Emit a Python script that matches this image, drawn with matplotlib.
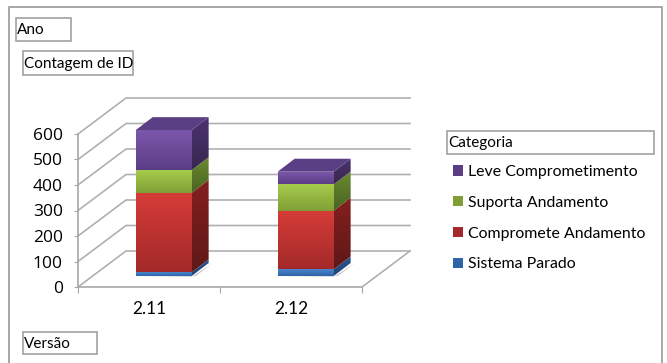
import numpy as np
import matplotlib
matplotlib.use("Agg")
import matplotlib.pyplot as plt
from matplotlib.patches import Polygon, Patch, Rectangle
from matplotlib.colors import LinearSegmentedColormap

categories = ["2.11", "2.12"]
series = ["Sistema Parado", "Compromete Andamento", "Suporta Andamento", "Leve Comprometimento"]
sistema_parado = [14, 26]
compromete = [312, 230]
suporta = [89, 103]
leve = [157, 50]
values = [sistema_parado, compromete, suporta, leve]
yticks = [0, 100, 200, 300, 400, 500, 600]

front_top = ["#4a86cc", "#d63c38", "#a6cc4c", "#7d58ac"]
front_bot = ["#2f64a8", "#a32a29", "#7f9f36", "#5b3d86"]
side_top = ["#2a5590", "#84201f", "#6a8a30", "#4c3470"]
side_bot = ["#1f4272", "#5e1817", "#4a6322", "#38264f"]
top_col = "#5b3f85"

W, H = 667, 363
plt.rcParams["font.family"] = ["Lato", "DejaVu Sans"]
fig = plt.figure(figsize=(W / 100, H / 100), dpi=100, facecolor="white")

# outer frame
over = fig.add_axes([0, 0, 1, 1], zorder=5)
over.set_xlim(0, W); over.set_ylim(H, 0); over.axis("off")
over.plot([9, 9, 662, 662], [H, 7, 7, H], color="#a0a0a0", lw=1.3)

def box(x0, y0, x1, y1, text):
    over.add_patch(Rectangle((x0, y0), x1 - x0, y1 - y0, fc="white", ec="#9a9a9a", lw=1.1))
    over.text(x0 + 1, (y0 + y1) / 2 + 1, text, ha="left", va="center", fontsize=11, color="black")

box(16, 18, 71, 41, "Ano")
box(23, 51, 133, 75, "Contagem de ID")
box(447, 131, 654, 154, "Categoria")
box(23, 332, 97, 354, "Versão")

# plotting axes: x 78..362 px, 0..600 mapped to 287..134 px
ax = fig.add_axes([78 / W, 1 - 287 / H, (362 - 78) / W, 153 / H], zorder=2)
ax.set_xlim(0, len(categories)); ax.set_ylim(0, 600)
ax.patch.set_visible(False)
for s in ["top", "right"]:
    ax.spines[s].set_visible(False)
for s in ["left", "bottom"]:
    ax.spines[s].set_color("#a8a8a8"); ax.spines[s].set_linewidth(1.2)
ax.set_xticks(np.arange(len(categories) + 1))
ax.set_xticklabels([""] * (len(categories) + 1))
ax.set_yticks(yticks)
ax.tick_params(axis="y", length=3, color="#a8a8a8", labelsize=12.5, pad=8, direction="out")
for lab in ax.get_yticklabels():
    lab.set_fontfamily("Open Sans")
ax.tick_params(axis="x", length=4, color="#a8a8a8", direction="out")

ux = 142.0  # px per category
uy = 153 / 600  # px per value
wall_dx, wall_dy = 48 / ux, 36 / uy
bar_w = 56 / ux
depth_dx, depth_dy = 17 / ux, 13 / uy
base_frac = 0.305
grid = "#b0b0b0"

n = len(categories)
for t in yticks:
    ax.plot([0, wall_dx, n + wall_dx], [t, t + wall_dy, t + wall_dy], color=grid, lw=1.2, clip_on=False, zorder=1)
ax.plot([n, n + wall_dx], [0, wall_dy], color=grid, lw=1.2, clip_on=False, zorder=1)

def grad(poly, c0, c1, zorder):
    cm = LinearSegmentedColormap.from_list("g", [c1, c0])
    xs, ys = zip(*poly)
    arr = np.linspace(0, 1, 64).reshape(-1, 1)
    im = ax.imshow(arr, cmap=cm, origin="lower", aspect="auto",
                   extent=(min(xs), max(xs), min(ys), max(ys)), zorder=zorder)
    p = Polygon(poly, transform=ax.transData, fc="none", ec="none", clip_on=False)
    ax.add_patch(p)
    im.set_clip_box(fig.bbox)
    im.set_clip_path(p)

for i in range(n):
    x0 = i + 0.5 + base_frac * wall_dx - bar_w / 2
    x1 = x0 + bar_w
    yb = base_frac * wall_dy
    ax.add_patch(Polygon([(x0 - 0.02, yb - 3), (x1, yb - 3),
                          (x1 + depth_dx + 0.03, yb + depth_dy), (x1 + 0.03, yb)],
                         fc="#c8c8c8", ec="none", clip_on=False, zorder=2))
    b = yb
    for j, vals in enumerate(values):
        v = vals[i]
        front = [(x0, b), (x1, b), (x1, b + v), (x0, b + v)]
        side = [(x1, b), (x1 + depth_dx, b + depth_dy), (x1 + depth_dx, b + v + depth_dy), (x1, b + v)]
        grad(side, side_top[j], side_bot[j], 3 + j)
        grad(front, front_top[j], front_bot[j], 3 + j)
        b += v
    ax.add_patch(Polygon([(x0, b), (x1, b), (x1 + depth_dx, b + depth_dy), (x0 + depth_dx, b + depth_dy)],
                         fc=top_col, ec="none", clip_on=False, zorder=8))
    ax.text(i + 0.5, -86, categories[i], ha="center", va="center", fontsize=12.5, clip_on=False)
ax.set_xlim(0, n); ax.set_ylim(0, 600)

handles = [Patch(fc=front_bot[j], ec="none") for j in [3, 2, 1, 0]]
labels = [series[j] for j in [3, 2, 1, 0]]
leg = over.legend(handles, labels, loc="upper left", bbox_to_anchor=(453 / W, 1 - 165 / H),
                  frameon=False, borderpad=0, borderaxespad=0, handlelength=0.62, handleheight=0.62,
                  handletextpad=0.3, labelspacing=1.06, fontsize=11.4)

fig.savefig("out.png", dpi=100)
